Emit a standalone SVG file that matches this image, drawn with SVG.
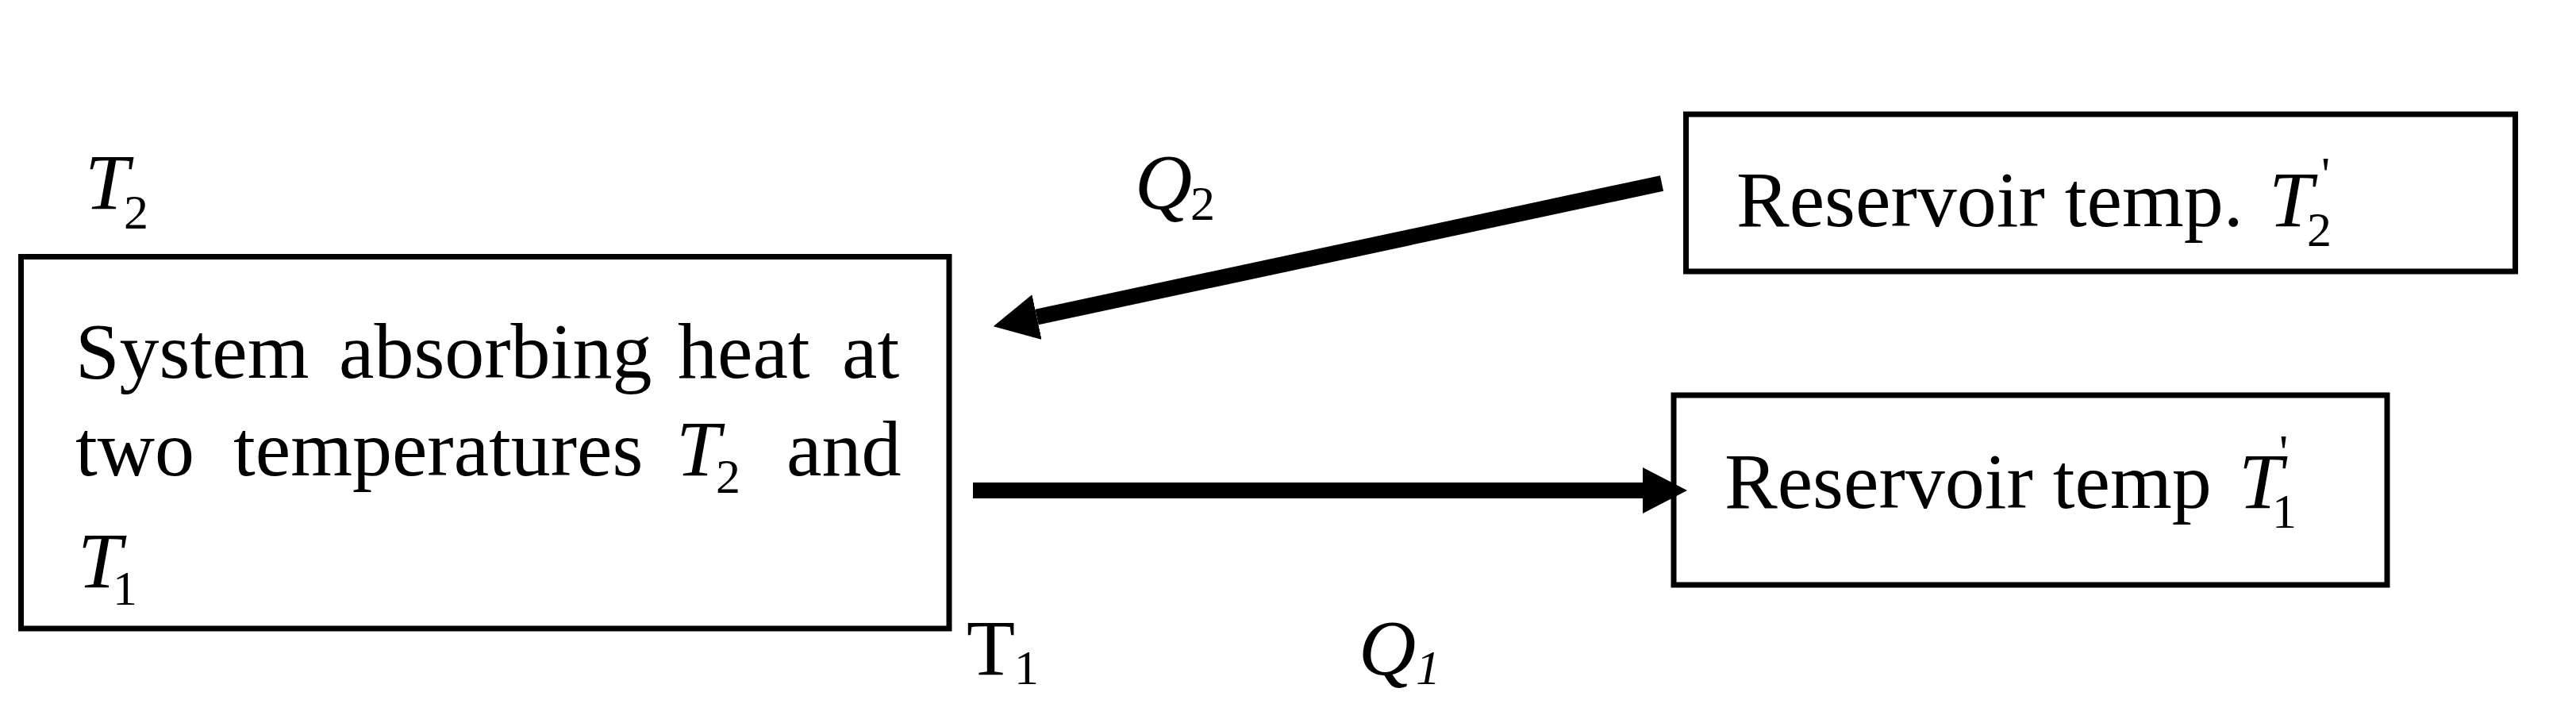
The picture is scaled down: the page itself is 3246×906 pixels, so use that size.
<svg xmlns="http://www.w3.org/2000/svg" width="3246" height="906" viewBox="0 0 3246 906">
<style>
.box{fill:none;stroke:#000;stroke-width:7}
.t{font-family:"Liberation Serif","Times New Roman",serif;font-size:100px;fill:#000}
.i{font-style:italic}
.s{font-size:62px}
.conn{stroke:#000;stroke-width:20;fill:none;stroke-linecap:butt}
</style>
<defs>
<marker id="head" markerUnits="userSpaceOnUse" markerWidth="56" markerHeight="58" refX="0" refY="29" orient="auto" viewBox="0 0 56 58">
<path d="M0,0 L56,29 L0,58 z" fill="#000"/>
</marker>
</defs>
<rect x="0" y="0" width="3246" height="906" fill="#fff"/>

<g id="label-T2">
<text class="t i" x="107" y="263">T</text>
<text class="t s" x="156" y="288">2</text>
</g>

<g id="system">
<rect class="box" x="26.5" y="323.5" width="1169.5" height="468.5"/>
<text class="t" y="476"><tspan x="95">System</tspan><tspan x="427">absorbing</tspan><tspan x="854">heat</tspan><tspan x="1061">at</tspan></text>
<text class="t" y="599"><tspan x="95">two</tspan><tspan x="294">temperatures</tspan><tspan x="991">and</tspan></text>
<text class="t i" x="852" y="599">T</text>
<text class="t s" x="902" y="621">2</text>
<text class="t i" x="98" y="740">T</text>
<text class="t s" x="142" y="762">1</text>
</g>

<g id="label-T1">
<text class="t" x="1218" y="850">T</text>
<text class="t s" x="1278" y="862">1</text>
</g>

<g id="reservoir-T2">
<rect class="box" x="2124.5" y="144" width="1045" height="198"/>
<text class="t" x="2188" y="285">Reservoir temp.</text>
<text class="t i" x="2859" y="285">T</text>
<text class="t s" x="2907" y="310">2</text>
<text class="t s" x="2925" y="240">'</text>
</g>

<g id="reservoir-T1">
<rect class="box" x="2109" y="498" width="899" height="239"/>
<text class="t" x="2173" y="640">Reservoir temp</text>
<text class="t i" x="2821" y="640">T</text>
<text class="t s" x="2863" y="665">1</text>
<text class="t s" x="2872" y="590">'</text>
</g>

<g id="connectors">
<line class="conn" x1="2094" y1="231" x2="1306.5" y2="399.5" marker-end="url(#head)"/>
<line class="conn" x1="1226" y1="618" x2="2070" y2="618" marker-end="url(#head)"/>
<g id="label-Q2">
<text class="t i" x="1430" y="263">Q</text>
<text class="t s" x="1500" y="277">2</text>
</g>
<g id="label-Q1">
<text class="t i" x="1712" y="850">Q</text>
<text class="t s i" x="1784" y="862">1</text>
</g>
</g>
</svg>
